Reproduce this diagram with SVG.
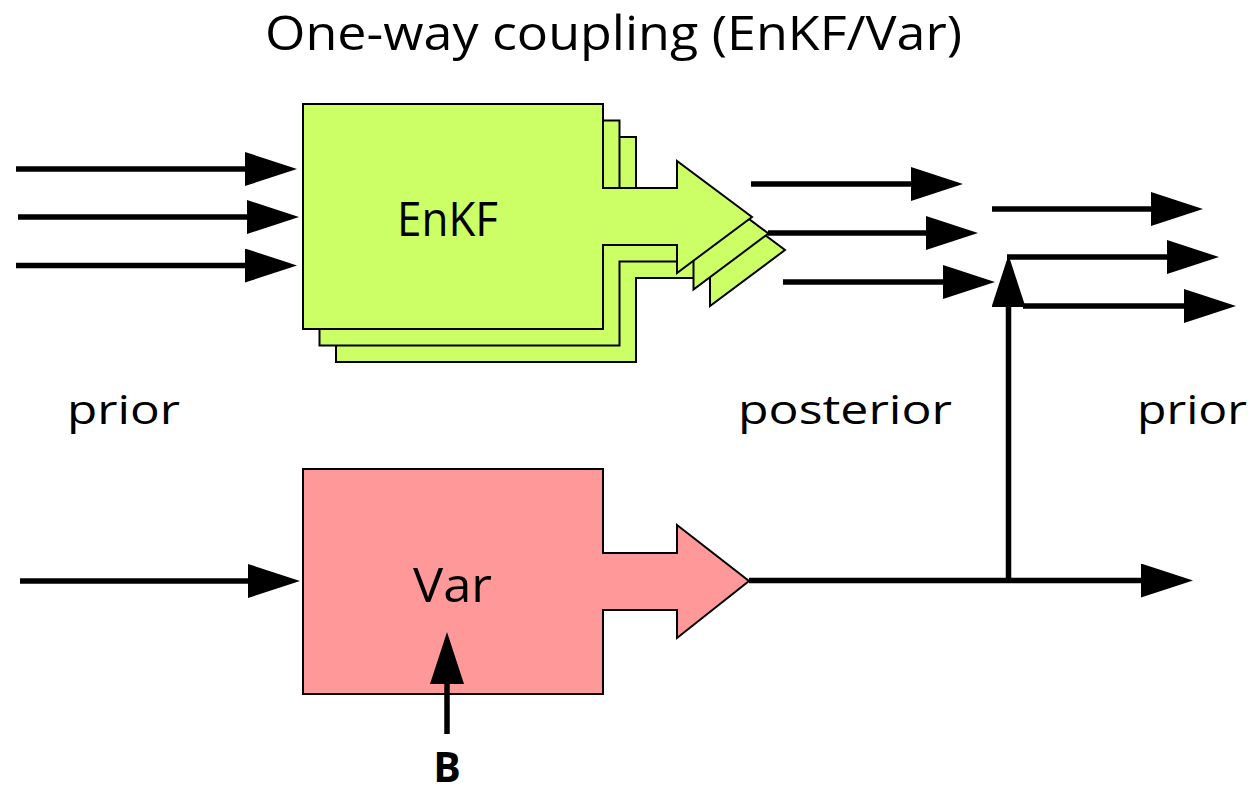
<svg xmlns="http://www.w3.org/2000/svg" width="1254" height="794" viewBox="0 0 1254 794">
  <style>
    .lbl { font-family: "Open Sans", "Noto Sans", "Liberation Sans", sans-serif; fill: #000; }
    .enkf { fill: #ccff66; stroke: #000; stroke-width: 2; stroke-linejoin: miter; }
    .var { fill: #ff9999; stroke: #000; stroke-width: 2; stroke-linejoin: miter; }
    .conn { stroke: #000; stroke-width: 5.5; fill: none; marker-end: url(#head); }
  </style>
  <defs>
    <marker id="head" markerUnits="userSpaceOnUse" markerWidth="52" markerHeight="34" viewBox="0 0 52 34" refX="12" refY="17" orient="auto">
      <polygon points="0,0 52,17 0,34" fill="#000"/>
    </marker>
    <polygon id="enkfShape" class="enkf" points="303,104 603,104 603,188 677,188 677,161 752,217 677,273 677,245 603,245 603,329 303,329"/>
  </defs>

  <rect width="1254" height="794" fill="#fff"/>

  <text class="lbl" x="265" y="50" font-size="48" textLength="697" lengthAdjust="spacingAndGlyphs">One-way coupling (EnKF/Var)</text>

  <g id="enkf">
    <use href="#enkfShape" transform="translate(33,33)"/>
    <use href="#enkfShape" transform="translate(16.5,16.5)"/>
    <use href="#enkfShape"/>
    <text class="lbl" x="397" y="236" font-size="47" textLength="101" lengthAdjust="spacingAndGlyphs">EnKF</text>
  </g>

  <g id="var">
    <polygon class="var" points="303,469 603,469 603,553 677,553 677,525 749,581 677,638 677,610 603,610 603,694 303,694"/>
    <text class="lbl" x="413" y="602" font-size="47" textLength="79" lengthAdjust="spacingAndGlyphs">Var</text>
  </g>

  <g id="label-prior-left">
    <text class="lbl" x="67" y="424" font-size="40" textLength="113" lengthAdjust="spacingAndGlyphs">prior</text>
  </g>
  <g id="label-posterior">
    <text class="lbl" x="738" y="424" font-size="40" textLength="214" lengthAdjust="spacingAndGlyphs">posterior</text>
  </g>
  <g id="label-prior-right">
    <text class="lbl" x="1137" y="424" font-size="40" textLength="110" lengthAdjust="spacingAndGlyphs">prior</text>
  </g>
  <g id="label-B">
    <text class="lbl" x="447" y="782" font-size="41" font-weight="700" text-anchor="middle">B</text>
  </g>

  <g id="connectors">
    <line class="conn" x1="16" y1="169" x2="257" y2="169"/>
    <line class="conn" x1="18" y1="217" x2="259" y2="217"/>
    <line class="conn" x1="16" y1="265.5" x2="257" y2="265.5"/>
    <line class="conn" x1="751" y1="184" x2="923" y2="184"/>
    <line class="conn" x1="768" y1="233" x2="938" y2="233"/>
    <line class="conn" x1="783" y1="282" x2="955" y2="282"/>
    <line class="conn" x1="992" y1="209" x2="1163" y2="209"/>
    <line class="conn" x1="1007" y1="257" x2="1179" y2="257"/>
    <line class="conn" x1="1023" y1="306" x2="1196" y2="306"/>
    <line class="conn" x1="20" y1="581" x2="260" y2="581"/>
    <line class="conn" x1="749" y1="580.5" x2="1153" y2="580.5"/>
    <line class="conn" x1="1008.5" y1="578" x2="1008.5" y2="295"/>
    <line class="conn" x1="447" y1="734" x2="447" y2="672"/>
  </g>
</svg>
